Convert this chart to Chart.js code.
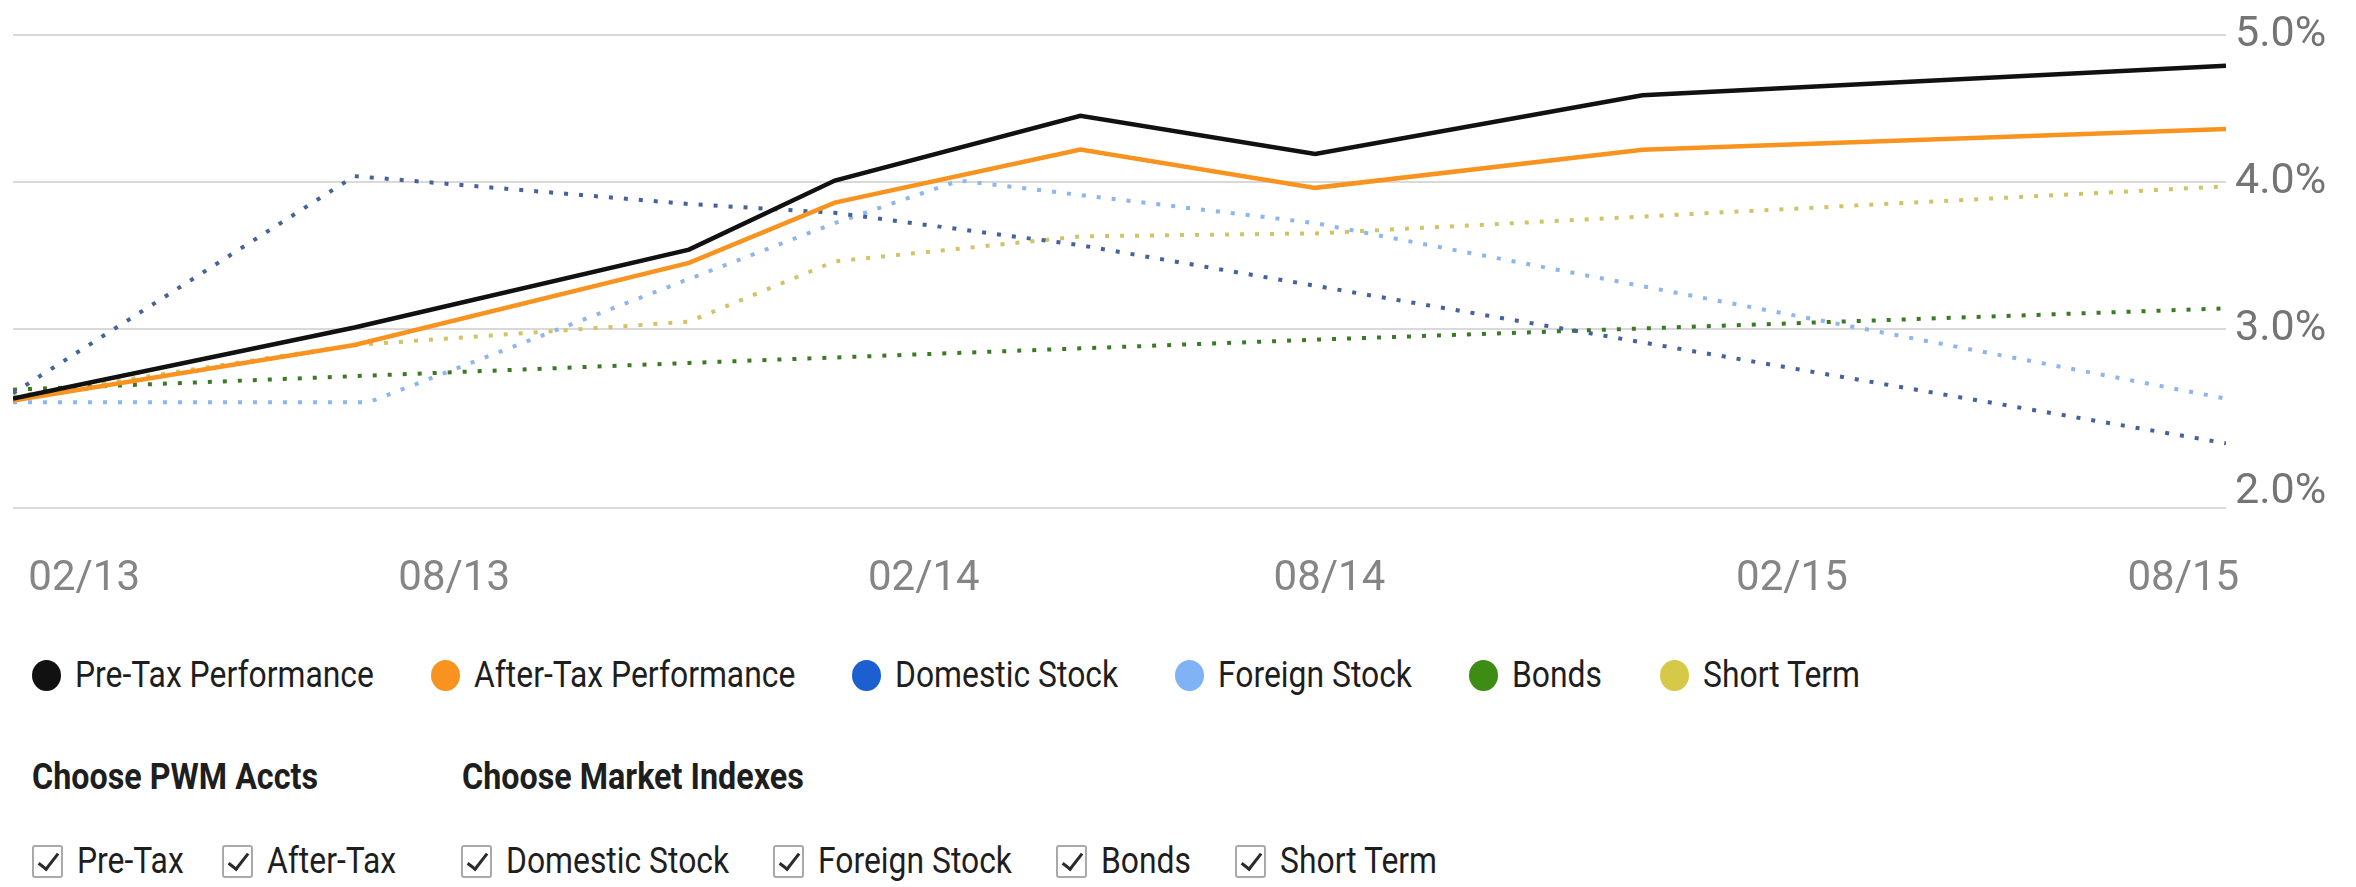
<!DOCTYPE html>
<html>
<head>
<meta charset="utf-8">
<title>PWM Performance</title>
<script src="https://cdn.jsdelivr.net/npm/chart.js@4.4.1/dist/chart.umd.min.js"></script>
<style>
  html, body { margin: 0; padding: 0; background: #fff; }
  body {
    width: 2356px; height: 887px; position: relative; overflow: hidden;
    font-family: Roboto, "Noto Sans", sans-serif;
    color: #1e1e1e;
  }
  #chart-wrap { position: absolute; left: 0; top: 0; width: 2356px; height: 652px; }
  #legend { position: absolute; left: 32px; top: 655px; display: flex; align-items: center; }
  .legend-item { display: flex; align-items: center; margin-right: 57px; font-size: 36px; line-height: 40px; }
  .legend-dot { width: 29px; height: 31px; border-radius: 50%; margin-right: 14px; flex: none; }
  .heading { position: absolute; top: 757px; font-weight: bold; font-size: 36.5px; line-height: 40px; }
  .boxes { position: absolute; top: 843px; display: flex; align-items: center; }
  .box-item { display: flex; align-items: center; margin-right: 44px; font-size: 36px; line-height: 36px; }
  #acct-boxes .box-item { margin-right: 38px; }
  .box {
    width: 27px; height: 29px; border: 2px solid #a9a9a9; border-radius: 3px;
    margin-right: 14px; position: relative; box-sizing: content-box; flex: none;
  }
  .box::after {
    content: ''; position: absolute; left: 9px; top: 2px; width: 8px; height: 18px;
    border: solid #2a2a2a; border-width: 0 3px 3px 0; transform: rotate(38deg);
  }
  .sq { display: inline-block; white-space: nowrap; transform-origin: 0 50%; }
</style>
</head>
<body>
<div id="chart-wrap"><canvas id="perfChart"></canvas></div>
<div id="legend"></div>
<div class="heading" style="left:32px"><span class="sq">Choose PWM Accts</span></div>
<div class="heading" style="left:462px"><span class="sq">Choose Market Indexes</span></div>
<div class="boxes" id="acct-boxes" style="left:32px"></div>
<div class="boxes" id="index-boxes" style="left:461px"></div>

<script>
// x = months since 01/13, y = return in %
const xMax = 31.1;
const tickMonths = [1.0, 6.2, 12.8, 18.5, 25.0, 30.5];
const tickLabels = ['02/13', '08/13', '02/14', '08/14', '02/15', '08/15'];
const yTicks = [2, 3, 4, 5];

const seriesNames = ['Pre-Tax Performance', 'After-Tax Performance', 'Domestic Stock', 'Foreign Stock', 'Bonds', 'Short Term'];
const legendColors = ['#111111', '#f7931e', '#1c5fd1', '#7fb3f5', '#3d8c13', '#d5c947'];
const lineColors = ['#111111', '#f7931e', '#44639a', '#8db6ec', '#3b7a25', '#d0c566'];
const dotted = [false, false, true, true, true, true];

const preTax = [[0, 2.61], [4.8, 3.01], [9.5, 3.54], [11.55, 4.01], [15.0, 4.45], [18.3, 4.19], [22.9, 4.59], [31.1, 4.79]];
const afterTax = [[0, 2.60], [4.8, 2.91], [9.5, 3.45], [11.55, 3.86], [15.0, 4.22], [18.3, 3.96], [22.9, 4.22], [31.1, 4.36]];
const domesticStock = [[0, 2.64], [4.8, 4.04], [9.5, 3.85], [11.55, 3.79], [15.0, 3.57], [31.1, 2.36]];
const foreignStock = [[0, 2.59], [5.0, 2.59], [9.5, 3.34], [11.55, 3.72], [13.3, 4.01], [18.3, 3.72], [31.1, 2.61]];
const bonds = [[0, 2.66], [9.5, 2.81], [18.3, 2.94], [31.1, 3.14]];
const shortTerm = [[0, 2.62], [4.8, 2.91], [9.5, 3.05], [11.55, 3.46], [15.0, 3.63], [18.3, 3.65], [31.1, 3.97]];

const acctOptions = ['Pre-Tax', 'After-Tax'];
const indexOptions = ['Domestic Stock', 'Foreign Stock', 'Bonds', 'Short Term'];

const allSeries = [preTax, afterTax, domesticStock, foreignStock, bonds, shortTerm];

// the original y axis is not evenly spaced: 2-3% gets more room than 3-4% and 4-5%
const yBreak = 3;
const yBreakShare = 0.378;
const bottomLabelLift = 15;
const textSqueeze = 0.885;

function valueToDecimal(v, min, max) {
    if (v <= yBreak) return (v - min) / (yBreak - min) * yBreakShare;
    return yBreakShare + (v - yBreak) / (max - yBreak) * (1 - yBreakShare);
}
function decimalToValue(d, min, max) {
    if (d <= yBreakShare) return min + d / yBreakShare * (yBreak - min);
    return yBreak + (d - yBreakShare) / (1 - yBreakShare) * (max - yBreak);
}

class SplitLinearScale extends Chart.LinearScale {
    getPixelForValue(value) {
        if (value === null || value === undefined || isNaN(value)) return NaN;
        return this.getPixelForDecimal(valueToDecimal(value, this.min, this.max));
    }
    getValueForPixel(pixel) {
        return decimalToValue(this.getDecimalForPixel(pixel), this.min, this.max);
    }
    _computeLabelItems(chartArea) {
        const items = super._computeLabelItems(chartArea);
        items.forEach((item, i) => {
            // bottom label sits a bit above its grid line
            if (this.ticks[i] && this.ticks[i].value === this.min) {
                const t = item.options.translation;
                item.options.translation = [t[0], t[1] - bottomLabelLift];
            }
        });
        return items;
    }
}
SplitLinearScale.id = 'splitLinear';
SplitLinearScale.defaults = Chart.LinearScale.defaults;
Chart.register(SplitLinearScale);

const datasets = allSeries.map((points, i) => ({
    label: seriesNames[i],
    data: points.map(p => ({ x: p[0], y: p[1] })),
    borderColor: lineColors[i],
    backgroundColor: lineColors[i],
    borderWidth: dotted[i] ? 4 : 4.5,
    borderDash: dotted[i] ? [4, 11] : [],
    pointRadius: 0,
    tension: 0,
    fill: false
}));

new Chart(document.getElementById('perfChart'), {
    type: 'line',
    data: { datasets: datasets },
    options: {
        responsive: true,
        maintainAspectRatio: false,
        animation: false,
        devicePixelRatio: 1,
        layout: { padding: { left: 13, right: 0, top: 35, bottom: 0 } },
        plugins: { legend: { display: false }, tooltip: { enabled: false } },
        scales: {
            x: {
                type: 'linear',
                min: 0,
                max: xMax,
                grid: { display: false, drawTicks: false },
                border: { display: false },
                afterBuildTicks: axis => { axis.ticks = tickMonths.map(v => ({ value: v })); },
                afterFit: axis => { axis.paddingLeft = 0; axis.paddingRight = 0; },
                ticks: {
                    autoSkip: false,
                    maxRotation: 0,
                    padding: 47,
                    color: '#858585',
                    font: { family: 'Roboto', size: 42 },
                    callback: (v, i) => tickLabels[i]
                }
            },
            y: {
                type: 'splitLinear',
                position: 'right',
                min: 2,
                max: 5,
                grid: { color: '#d9d9d9', lineWidth: 2, drawTicks: false },
                border: { display: false },
                afterBuildTicks: axis => { axis.ticks = yTicks.map(v => ({ value: v })); },
                afterFit: axis => { axis.width = 130; },
                ticks: {
                    padding: 9,
                    color: '#747474',
                    font: { family: 'Roboto', size: 43 },
                    callback: v => v.toFixed(1) + '%'
                }
            }
        }
    }
});

// legend
const legendEl = document.getElementById('legend');
seriesNames.forEach((name, i) => {
    const item = document.createElement('div');
    item.className = 'legend-item';
    item.innerHTML = `<span class="legend-dot" style="background:${legendColors[i]}"></span><span class="sq">${name}</span>`;
    legendEl.appendChild(item);
});

// checkbox rows
function fillBoxes(el, names) {
    names.forEach(name => {
        const item = document.createElement('div');
        item.className = 'box-item';
        item.innerHTML = `<span class="box"></span><span class="sq">${name}</span>`;
        el.appendChild(item);
    });
}
fillBoxes(document.getElementById('acct-boxes'), acctOptions);
fillBoxes(document.getElementById('index-boxes'), indexOptions);

// the original text is narrower than any installed face: squeeze it horizontally
document.querySelectorAll('.sq').forEach(el => {
    const w = el.offsetWidth;
    el.style.transform = `scaleX(${textSqueeze})`;
    el.style.marginRight = (-w * (1 - textSqueeze)) + 'px';
});
</script>
</body>
</html>
